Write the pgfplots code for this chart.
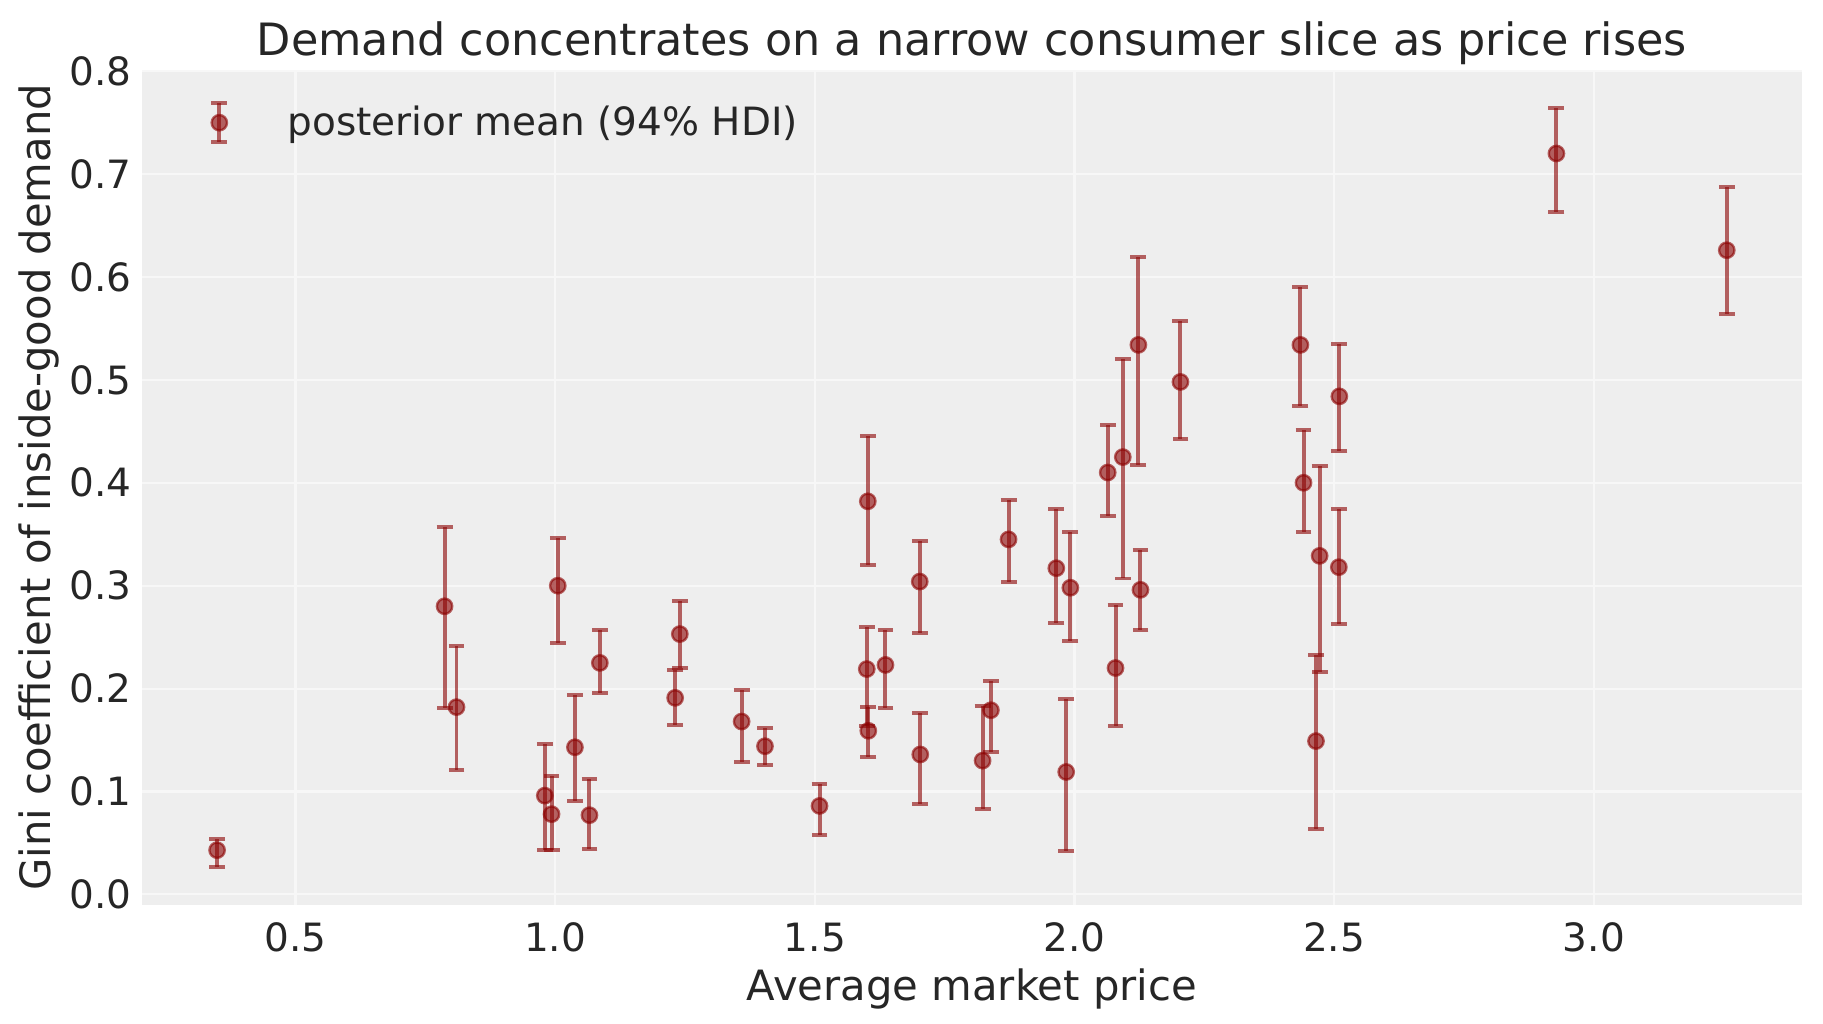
\documentclass[border=0pt]{standalone}
\usepackage{pgfplots}
\pgfplotsset{compat=1.18}
\usepackage{pgfplotstable}
\usepackage{fontspec}
\setmainfont{DejaVu Sans}
\definecolor{dred}{RGB}{139,0,0}
\definecolor{bgc}{RGB}{238,238,238}
\definecolor{gridc}{RGB}{247,247,247}
\definecolor{txt}{RGB}{38,38,38}

\pgfplotstableread{
x y lo hi
0.349 0.043 0.027 0.054
0.787 0.280 0.181 0.357
0.810 0.182 0.121 0.241
0.980 0.096 0.043 0.146
0.993 0.078 0.043 0.115
1.005 0.300 0.244 0.346
1.038 0.143 0.091 0.194
1.066 0.077 0.044 0.112
1.086 0.225 0.196 0.257
1.231 0.191 0.165 0.218
1.240 0.253 0.220 0.285
1.359 0.168 0.129 0.199
1.404 0.144 0.126 0.162
1.509 0.086 0.058 0.107
1.602 0.382 0.320 0.445
1.600 0.219 0.164 0.260
1.603 0.159 0.134 0.182
1.636 0.223 0.181 0.257
1.702 0.304 0.254 0.343
1.703 0.136 0.088 0.176
1.823 0.130 0.083 0.183
1.839 0.179 0.138 0.207
1.873 0.345 0.304 0.383
1.965 0.317 0.264 0.375
1.984 0.119 0.042 0.190
1.992 0.298 0.246 0.352
2.064 0.410 0.368 0.456
2.079 0.220 0.164 0.281
2.093 0.425 0.307 0.520
2.123 0.534 0.417 0.619
2.127 0.296 0.257 0.335
2.204 0.498 0.443 0.557
2.435 0.534 0.475 0.590
2.441 0.400 0.352 0.451
2.465 0.149 0.064 0.233
2.472 0.329 0.216 0.416
2.510 0.484 0.431 0.535
2.509 0.318 0.263 0.375
2.928 0.720 0.663 0.764
3.256 0.626 0.564 0.687
}\datatable

\begin{document}
\begin{tikzpicture}
\useasboundingbox (-53.5pt,-44.7pt) rectangle (634.3pt,341.3pt);
\begin{axis}[
  at={(0,0)}, anchor=south west,
  scale only axis,
  width=626.4pt, height=314.8pt,
  xmin=0.204, xmax=3.401,
  ymin=-0.0099, ymax=0.8009,
  axis background/.style={fill=bgc},
  axis line style={draw=none},
  tick style={draw=none},
  grid=major,
  major grid style={draw=gridc, line width=0.8pt},
  xtick={0.5,1.0,1.5,2.0,2.5,3.0},
  ytick={0,0.1,0.2,0.3,0.4,0.5,0.6,0.7,0.8},
  /pgf/number format/.cd, fixed, fixed zerofill, precision=1, assume math mode=true,
  /pgfplots/.cd,
  xticklabel style={anchor=base, inner sep=0pt, yshift=-17.6pt, font=\fontsize{14.7}{17}\selectfont, text=txt},
  yticklabel style={anchor=east, inner sep=0pt, xshift=-3.7pt, font=\fontsize{14.7}{17}\selectfont, text=txt},
  legend style={at={(axis description cs:0,1)}, anchor=west, xshift=25.5pt, yshift=-19.8pt,
    draw=none, fill=none, inner sep=0pt, outer sep=0pt,
    nodes={inner sep=0pt, text=txt}, column sep=0pt,
    font=\fontsize{14.7}{17}\selectfont},
]
\addplot[
  only marks,
  mark=*,
  mark size=2.9pt,
  mark options={fill=dred, fill opacity=0.6, draw=dred, draw opacity=0.6, line width=0.9pt},
  error bars/.cd,
    y dir=both, y explicit,
    error bar style={line width=1.5pt, draw=dred, draw opacity=0.6},
    error mark options={rotate=90, mark size=3pt, line width=1.5pt, draw=dred, draw opacity=0.6},
  /pgfplots/.cd,
  legend image code/.code={
    \draw[line width=1.5pt, draw=dred, draw opacity=0.6] (0pt,-7.3pt) -- (0pt,7.3pt);
    \draw[line width=1.5pt, draw=dred, draw opacity=0.6] (-3pt,-7.3pt) -- (3pt,-7.3pt);
    \draw[line width=1.5pt, draw=dred, draw opacity=0.6] (-3pt,7.3pt) -- (3pt,7.3pt);
    \draw[fill=dred, fill opacity=0.6, draw=dred, draw opacity=0.6, line width=0.9pt] (0pt,0pt) circle (2.9pt);
    \path[draw=none, fill=none] (-3pt,0pt) rectangle (25.8pt,0.1pt);
  },
] table[x=x, y=y, y error plus expr=\thisrow{hi}-\thisrow{y}, y error minus expr=\thisrow{y}-\thisrow{lo}] {\datatable};
\addlegendentry{posterior mean (94\% HDI)}
\end{axis}
\node[anchor=base, text=txt, font=\fontsize{16.8}{20}\selectfont] at (313.2pt,320.3pt) {Demand concentrates on a narrow consumer slice as price rises};
\node[anchor=base, text=txt, font=\fontsize{15.75}{19}\selectfont] at (313.2pt,-36.2pt) {Average market price};
\node[rotate=90, anchor=center, text=txt, font=\fontsize{15.75}{19}\selectfont] at (-38.9pt,157.4pt) {Gini coefficient of inside-good demand};
\end{tikzpicture}
\end{document}
